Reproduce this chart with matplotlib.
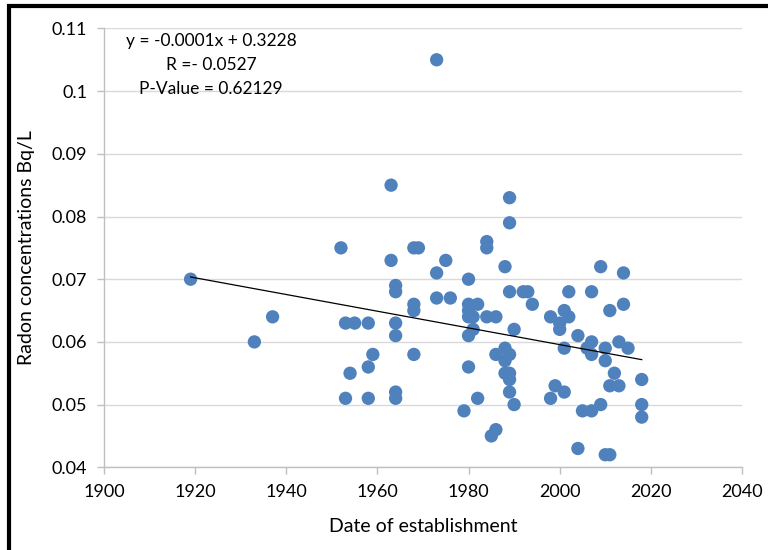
#!/usr/bin/env python3
"""Radon concentration vs date of establishment, with linear trend."""

import matplotlib

matplotlib.use("Agg")
import matplotlib.pyplot as plt
import numpy as np
from matplotlib.patches import Rectangle

# year of establishment for each sampled site
years = [
    1919, 1933, 1937, 1952, 1953, 1953, 1954, 1955, 1958, 1958,
    1958, 1959, 1963, 1963, 1964, 1964, 1964, 1964, 1964, 1964,
    1968, 1969, 1968, 1968, 1968, 1973, 1973, 1973, 1975, 1976,
    1979, 1980, 1980, 1982, 1980, 1980, 1981, 1981, 1980, 1980,
    1982, 1984, 1984, 1984, 1986, 1989, 1989, 1988, 1989, 1992,
    1993, 1994, 1990, 1986, 1988, 1989, 1988, 1988, 1989, 1989,
    1989, 1990, 1986, 1985, 1998, 2000, 2000, 2001, 2002, 2002,
    2007, 2004, 2001, 2006, 2007, 2007, 2009, 2014, 2011, 2014,
    2010, 2010, 2013, 2015, 2012, 2011, 2013, 2018, 2018, 2018,
    1998, 1999, 2001, 2004, 2005, 2007, 2009, 2010, 2011,
]
# radon concentration (Bq/L)
radon = [
    0.070, 0.060, 0.064, 0.075, 0.063, 0.051, 0.055, 0.063, 0.063, 0.056,
    0.051, 0.058, 0.085, 0.073, 0.069, 0.068, 0.063, 0.061, 0.052, 0.051,
    0.075, 0.075, 0.066, 0.065, 0.058, 0.105, 0.071, 0.067, 0.073, 0.067,
    0.049, 0.070, 0.066, 0.066, 0.065, 0.064, 0.064, 0.062, 0.061, 0.056,
    0.051, 0.076, 0.075, 0.064, 0.064, 0.083, 0.079, 0.072, 0.068, 0.068,
    0.068, 0.066, 0.062, 0.058, 0.059, 0.058, 0.057, 0.055, 0.055, 0.054,
    0.052, 0.050, 0.046, 0.045, 0.064, 0.063, 0.062, 0.065, 0.064, 0.068,
    0.068, 0.061, 0.059, 0.059, 0.060, 0.058, 0.072, 0.071, 0.065, 0.066,
    0.059, 0.057, 0.060, 0.059, 0.055, 0.053, 0.053, 0.054, 0.050, 0.048,
    0.051, 0.053, 0.052, 0.043, 0.049, 0.049, 0.050, 0.042, 0.042,
]

x_ticks = [1900, 1920, 1940, 1960, 1980, 2000, 2020, 2040]
y_ticks = [0.04, 0.05, 0.06, 0.07, 0.08, 0.09, 0.1, 0.11]
y_tick_labels = ["0.04", "0.05", "0.06", "0.07", "0.08", "0.09", "0.1", "0.11"]
annotation = ["y = -0.0001x + 0.3228", "R =- 0.0527", "P-Value = 0.62129"]

plt.rcParams["font.family"] = ["Lato", "DejaVu Sans"]

fig = plt.figure(figsize=(7.68, 5.5), dpi=100)
ax = fig.add_axes([0.1354, 0.1504, 0.8307, 0.7979])

ax.scatter(years, radon, s=92, color="#4F81BD", edgecolors="none", zorder=3)

# linear trend over the observed range
coef = np.polyfit(years, radon, 1)
xs = np.array([min(years), max(years)])
ax.plot(xs, np.polyval(coef, xs), color="black", linewidth=0.9, zorder=4)

ax.set_xlim(1900, 2040)
ax.set_ylim(0.04, 0.11)
ax.set_xticks(x_ticks)
ax.set_yticks(y_ticks)
ax.set_yticklabels(y_tick_labels)
ax.tick_params(axis="both", labelsize=13, colors="#BFBFBF", labelcolor="black",
               length=5, width=1, pad=7)
ax.grid(axis="y", color="#D9D9D9", linewidth=1)
ax.set_axisbelow(True)
for side in ("top", "right"):
    ax.spines[side].set_visible(False)
for side in ("left", "bottom"):
    ax.spines[side].set_color("#BFBFBF")
    ax.spines[side].set_linewidth(1)

ax.set_xlabel("Date of establishment", fontsize=14, labelpad=13)
ax.set_ylabel("Radon concentrations Bq/L", fontsize=14, labelpad=12)

for i, line in enumerate(annotation):
    fig.text(0.275, 0.925 - i * 0.0435, line, ha="center", va="center", fontsize=12.5)

# thick frame around the chart, cut off at right and bottom
fig.add_artist(Rectangle((8.7 / 768, -0.2), 1.5, 1.2 - 6.3 / 550, transform=fig.transFigure,
                         fill=False, edgecolor="black", linewidth=3, clip_on=False))

fig.savefig("out.png", dpi=100)
